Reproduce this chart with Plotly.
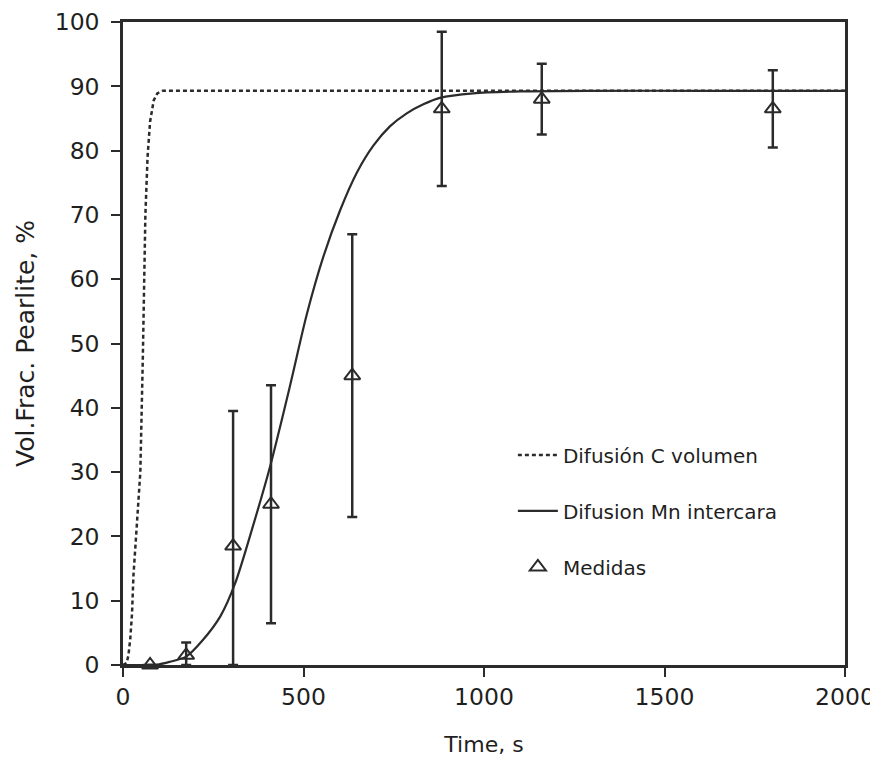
import plotly.graph_objects as go

# Curve: Difusión C volumen (dashed)
c_time = [0, 10, 15, 20, 25, 29, 35, 40, 48, 55, 62, 68, 75, 85, 95, 110, 500, 1000, 1500, 2000]
c_frac = [0, 0.3, 1.5, 4, 8, 14, 19, 23, 30, 48, 70, 79, 84.5, 87.8, 88.9, 89.3, 89.3, 89.3, 89.3, 89.3]

# Curve: Difusion Mn intercara (solid)
mn_time = [0, 50, 100, 130, 175, 220, 270, 310, 360, 408, 463, 509, 555, 602, 648, 694, 740, 786, 832, 878, 970, 1100, 1300, 1600, 2000]
mn_frac = [0, 0, 0.1, 0.5, 1.3, 3.8, 7.6, 12.6, 21.6, 31, 43.5, 54.5, 63.5, 70.8, 76.6, 80.8, 83.8, 85.8, 87.2, 88.2, 88.9, 89.2, 89.3, 89.3, 89.3]

# Medidas (measurements) with error bars
m_time = [75, 175, 305, 410, 635, 883, 1160, 1800]
m_frac = [0, 1.5, 18.5, 25, 45, 86.5, 88, 86.5]
m_err_plus = [0, 2, 21, 18.5, 22, 12, 5.5, 6]
m_err_minus = [0, 1.5, 18.5, 18.5, 22, 12, 5.5, 6]

x_ticks = [0, 500, 1000, 1500, 2000]
y_ticks = [0, 10, 20, 30, 40, 50, 60, 70, 80, 90, 100]

ink = "#2b2b2b"
txt = "#1f1f1f"
fam = "DejaVu Sans, Liberation Sans, Arial, sans-serif"

fig = go.Figure()
fig.add_trace(go.Scatter(
    x=c_time, y=c_frac, mode="lines", name="Difusión C volumen",
    line=dict(color=ink, width=2.5, dash="4px,3px"), legendgroup="a"))
fig.add_trace(go.Scatter(
    x=mn_time, y=mn_frac, mode="lines", name="Difusion Mn intercara",
    line=dict(color=ink, width=2.2, shape="spline", smoothing=0.8), legendgroup="b"))
fig.add_trace(go.Scatter(
    x=m_time, y=m_frac, mode="markers", name="Medidas", legendgroup="c",
    marker=dict(symbol="triangle-up-open", size=14, color=ink, line=dict(width=2, color=ink)),
    error_y=dict(type="data", symmetric=False, array=m_err_plus, arrayminus=m_err_minus,
                 color=ink, thickness=2.5, width=5),
    cliponaxis=False))

axis_font = dict(family=fam, size=23.5, color=txt)
fig.update_layout(
    width=870, height=755,
    margin=dict(l=115, r=33, t=14, b=98),
    plot_bgcolor="white", paper_bgcolor="white",
    font=dict(family=fam, color=txt),
    showlegend=True,
    legend=dict(x=0.54, y=0.357, xanchor="left", yanchor="top",
                font=dict(size=20, color=txt), tracegroupgap=27,
                traceorder="grouped", bgcolor="rgba(0,0,0,0)", itemwidth=40),
    xaxis=dict(range=[0, 2000], tickvals=x_ticks, ticks="outside", ticklen=9, tickwidth=2,
               tickcolor=ink, showline=True, linecolor=ink, linewidth=2.5, mirror=True,
               showgrid=False, zeroline=False, tickfont=axis_font, automargin=False,
               title=dict(text="Time, s", font=dict(size=22, color=txt), standoff=27)),
    yaxis=dict(range=[0, 100], tickvals=y_ticks, ticks="outside", ticklen=9, tickwidth=2,
               tickcolor=ink, showline=True, linecolor=ink, linewidth=2.5, mirror=True,
               showgrid=False, zeroline=False, tickfont=axis_font, automargin=False,
               ticklabelstandoff=7,
               title=dict(text="Vol.Frac. Pearlite, %", font=dict(size=25, color=txt), standoff=13)),
)

fig.write_html("out.html")
